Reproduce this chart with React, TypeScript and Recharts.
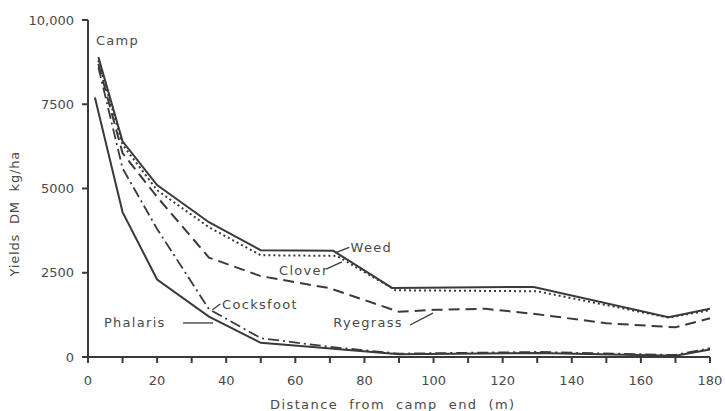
import React from "react";
import {
  LineChart,
  Line,
  XAxis,
  YAxis,
  ReferenceLine,
  ReferenceDot,
  Label,
} from "recharts";

// ---- data (distance from camp end, m ; yield DM kg/ha) ----
const weedDist = [3, 10, 20, 35, 50, 71, 88, 129, 168, 180];
const weedYield = [8900, 6400, 5100, 4000, 3170, 3150, 2050, 2080, 1180, 1430];

const cloverDist = [3, 10, 20, 35, 50, 72, 89, 130, 168, 180];
const cloverYield = [8800, 6300, 4950, 3850, 3020, 3000, 1980, 1950, 1170, 1390];

const ryegrassDist = [3, 10, 20, 35, 50, 70, 90, 100, 115, 130, 150, 170, 180];
const ryegrassYield = [8700, 6050, 4750, 2950, 2400, 2040, 1340, 1400, 1430, 1270, 1000, 880, 1150];

const cocksfootDist = [3, 10, 20, 35, 50, 70, 90, 130, 170, 180];
const cocksfootYield = [8600, 5600, 3800, 1420, 560, 300, 100, 150, 60, 260];

const phalarisDist = [2, 10, 20, 35, 50, 65, 90, 130, 170, 180];
const phalarisYield = [7700, 4300, 2300, 1200, 420, 300, 80, 120, 40, 220];

const xTicks = [0, 10, 20, 30, 40, 50, 60, 70, 80, 90, 100, 110, 120, 130, 140, 150, 160, 170, 180];
const yTicks = [0, 2500, 5000, 7500, 10000];

// annotation labels: text, x (start), y (centre)
const noteText = ["Camp", "Weed", "Clover", "Ryegrass", "Cocksfoot", "Phalaris"];
const noteX = [2.3, 76, 55.3, 71, 38.8, 4.6];
const noteY = [9400, 3260, 2580, 1010, 1570, 1010];

// leader lines: [x1, y1, x2, y2]
const leaderWeed = [71.5, 3090, 75.6, 3250];
const leaderClover = [68.9, 2610, 73.5, 2820];
const leaderRyegrass = [93.2, 950, 99.8, 1300];
const leaderCocksfoot = [36, 1400, 38.3, 1570];
const leaderPhalaris = [27.5, 1010, 36.2, 1010];

const zip = (d: number[], v: number[]) => d.map((x, i) => ({ x, y: v[i] }));

const INK = "#3a3a3a";
const TXT = "#4a4a4a";
const FONT = "'DejaVu Sans', sans-serif";

const leaders = [leaderWeed, leaderClover, leaderRyegrass, leaderCocksfoot, leaderPhalaris];

const YLabel = (props: any) => {
  const vb = props.viewBox || { x: 0, y: 0, width: 0, height: 0 };
  const cx = vb.x + 15;
  const cy = vb.y + vb.height * 0.575;
  return (
    <text
      x={cx}
      y={cy}
      transform={`rotate(-90 ${cx} ${cy})`}
      textAnchor="middle"
      dominantBaseline="central"
      fill={TXT}
      fontSize={13}
      fontFamily={FONT}
      letterSpacing={0.8}
      style={{ whiteSpace: "pre" }}
    >
      {"Yields  DM  kg/ha"}
    </text>
  );
};

const XLabel = (props: any) => {
  const vb = props.viewBox || { x: 0, y: 0, width: 0, height: 0 };
  const cx = vb.x + vb.width * 0.49;
  const cy = vb.y + 47;
  return (
    <text
      x={cx}
      y={cy}
      textAnchor="middle"
      dominantBaseline="central"
      fill={TXT}
      fontSize={13}
      fontFamily={FONT}
      letterSpacing={1.4}
      style={{ whiteSpace: "pre" }}
    >
      {"Distance  from  camp  end  (m)"}
    </text>
  );
};

export default function App() {
  return (
    <div style={{ position: "absolute", left: 0, top: 0, background: "#fff" }}>
      <LineChart
        width={725}
        height={411}
        margin={{ top: 20, right: 15, bottom: 0, left: 0 }}
      >
        <XAxis
          type="number"
          dataKey="x"
          domain={[0, 180]}
          ticks={xTicks}
          interval={0}
          allowDuplicatedCategory={false}
          tickFormatter={(v: number) => (v % 20 === 0 ? String(v) : "")}
          height={54}
          stroke={INK}
          strokeWidth={2}
          tickSize={6}
          tickMargin={13}
          tick={{ fill: TXT, fontSize: 13, fontFamily: FONT }}
        >
          <Label content={<XLabel />} />
        </XAxis>
        <YAxis
          type="number"
          domain={[0, 10000]}
          ticks={yTicks}
          interval={0}
          width={88}
          stroke={INK}
          strokeWidth={2}
          tickSize={6}
          tickMargin={8}
          tickFormatter={(v: number) => (v === 10000 ? "10,000" : String(v))}
          tick={{ fill: TXT, fontSize: 13, fontFamily: FONT }}
        >
          <Label content={<YLabel />} />
        </YAxis>

        <Line
          data={zip(weedDist, weedYield)}
          dataKey="y"
          type="linear"
          stroke={INK}
          strokeWidth={2}
          dot={false}
          isAnimationActive={false}
        />
        <Line
          data={zip(cloverDist, cloverYield)}
          dataKey="y"
          type="linear"
          stroke={INK}
          strokeWidth={2}
          strokeDasharray="2 3"
          dot={false}
          isAnimationActive={false}
        />
        <Line
          data={zip(ryegrassDist, ryegrassYield)}
          dataKey="y"
          type="linear"
          stroke={INK}
          strokeWidth={2}
          strokeDasharray="11 6"
          dot={false}
          isAnimationActive={false}
        />
        <Line
          data={zip(cocksfootDist, cocksfootYield)}
          dataKey="y"
          type="linear"
          stroke={INK}
          strokeWidth={1.8}
          strokeDasharray="11 4 2 4"
          dot={false}
          isAnimationActive={false}
        />
        <Line
          data={zip(phalarisDist, phalarisYield)}
          dataKey="y"
          type="linear"
          stroke={INK}
          strokeWidth={2}
          dot={false}
          isAnimationActive={false}
        />

        {leaders.map((l, i) => (
          <ReferenceLine
            key={"l" + i}
            segment={[
              { x: l[0], y: l[1] },
              { x: l[2], y: l[3] },
            ]}
            stroke={INK}
            strokeWidth={1.3}
          />
        ))}

        {noteText.map((t, i) => (
          <ReferenceDot
            key={"n" + i}
            x={noteX[i]}
            y={noteY[i]}
            r={0}
            shape={(p: any) => (
              <text
                x={p.cx}
                y={p.cy}
                textAnchor="start"
                dominantBaseline="central"
                fill={TXT}
                fontSize={13}
                fontFamily={FONT}
                letterSpacing={1.3}
              >
                {t}
              </text>
            )}
          />
        ))}
      </LineChart>
    </div>
  );
}
